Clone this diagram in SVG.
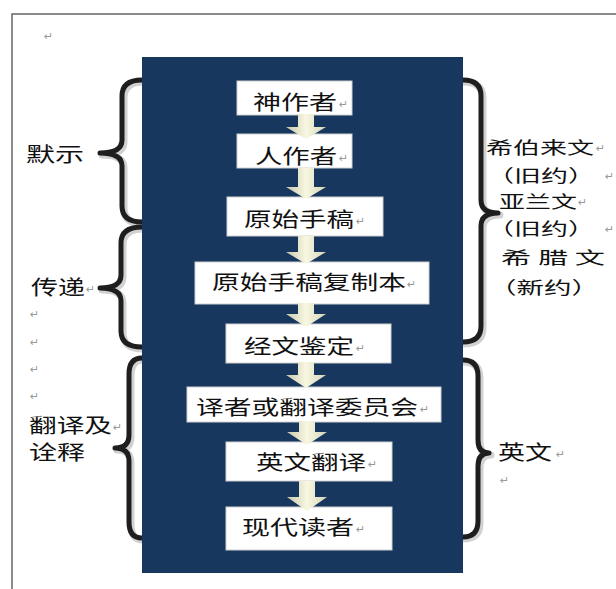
<svg xmlns="http://www.w3.org/2000/svg" width="616" height="589" viewBox="0 0 616 589">
<style>
.t{font-family:"Noto Sans CJK SC","Noto Sans",sans-serif;font-size:20px;fill:#111}
.r{font-family:"Noto Sans CJK SC","Noto Sans",sans-serif;font-size:17.5px;fill:#111}
.rm{font-family:"DejaVu Sans",sans-serif;font-size:11px;fill:#999}
.box{fill:#fff;stroke:#d0d0d0;stroke-width:1}
.arrow{fill:url(#ag);stroke:none}
.brace{fill:none;stroke:#1e1e1e;stroke-width:5;stroke-linecap:round;stroke-linejoin:round}
.braceS{fill:none;stroke:#9a9a9a;stroke-width:7;stroke-linecap:round;stroke-linejoin:round;opacity:0.45}
</style>
<defs>
<linearGradient id="ag" x1="0" y1="0" x2="1" y2="0">
<stop offset="0" stop-color="#c8c8ac"/>
<stop offset="0.5" stop-color="#f8f8e2"/>
<stop offset="1" stop-color="#d4d4b8"/>
</linearGradient>
</defs>
<rect x="0" y="0" width="616" height="589" fill="#fff"/>
<g id="frame">
<path d="M12,589 L12,14 L616,14" fill="none" stroke="#666" stroke-width="1.5"/>
</g>
<g id="braces">
<path class="braceS" d="M143,82 Q124,82 124,98 L124,142 Q124,155 102,155 Q124,155 124,168 L124,208 Q124,224 143,224"/>
<path class="brace" d="M142,80 Q122,80 122,96 L122,140 Q122,153 100,153 Q122,153 122,166 L122,206 Q122,222 142,222"/>
<path class="braceS" d="M143,229 Q123,229 123,245 L123,277 Q123,290 102,290 Q123,290 123,303 L123,333 Q123,349 143,349"/>
<path class="brace" d="M142,227 Q121,227 121,243 L121,275 Q121,288 100,288 Q121,288 121,301 L121,331 Q121,347 142,347"/>
<path class="braceS" d="M143,360 Q131,360 131,376 L131,437 Q131,450 117,450 Q131,450 131,463 L131,524 Q131,540 143,540"/>
<path class="brace" d="M142,358 Q129,358 129,374 L129,435 Q129,448 115,448 Q129,448 129,461 L129,522 Q129,538 142,538"/>
<path class="braceS" d="M463,82 Q483,82 483,98 L483,202 Q483,215 500,215 Q483,215 483,228 L483,328 Q483,344 463,344"/>
<path class="brace" d="M463,80 Q481,80 481,96 L481,200 Q481,213 498,213 Q481,213 481,226 L481,326 Q481,342 463,342"/>
<path class="braceS" d="M463,362 Q480,362 480,378 L480,442 Q480,455 491,455 Q480,455 480,468 L480,523 Q480,539 463,539"/>
<path class="brace" d="M463,360 Q478,360 478,376 L478,440 Q478,453 489,453 Q478,453 478,466 L478,521 Q478,537 463,537"/>
</g>
<rect id="panel" x="142" y="57" width="321" height="516" fill="#17375e"/>
<g id="n1"><rect class="box" x="237" y="81" width="115" height="34"/><text class="t" x="253" y="110" textLength="84" lengthAdjust="spacingAndGlyphs">神作者</text><text class="rm" x="339" y="108">↵</text></g>
<g id="n2"><rect class="box" x="237" y="134" width="115" height="34"/><text class="t" x="255" y="164" textLength="82" lengthAdjust="spacingAndGlyphs">人作者</text><text class="rm" x="339" y="162">↵</text></g>
<g id="n3"><rect class="box" x="227" y="197" width="156" height="39"/><text class="t" x="244" y="227" textLength="110" lengthAdjust="spacingAndGlyphs">原始手稿</text><text class="rm" x="356" y="225">↵</text></g>
<g id="n4"><rect class="box" x="195" y="262" width="234" height="42"/><text class="t" x="212" y="290" textLength="194" lengthAdjust="spacingAndGlyphs">原始手稿复制本</text><text class="rm" x="407" y="288">↵</text></g>
<g id="n5"><rect class="box" x="226" y="324" width="165" height="39"/><text class="t" x="244" y="354" textLength="110" lengthAdjust="spacingAndGlyphs">经文鉴定</text><text class="rm" x="356" y="352">↵</text></g>
<g id="n6"><rect class="box" x="187" y="387" width="254" height="35"/><text class="t" x="196" y="415" textLength="222" lengthAdjust="spacingAndGlyphs">译者或翻译委员会</text><text class="rm" x="420" y="413">↵</text></g>
<g id="n7"><rect class="box" x="226" y="442" width="166" height="39"/><text class="t" x="256" y="470" textLength="110" lengthAdjust="spacingAndGlyphs">英文翻译</text><text class="rm" x="368" y="468">↵</text></g>
<g id="n8"><rect class="box" x="226" y="507" width="166" height="43"/><text class="t" x="242" y="535" textLength="112" lengthAdjust="spacingAndGlyphs">现代读者</text><text class="rm" x="356" y="533">↵</text></g>
<g id="connectors">
<polygon class="arrow" points="298,114 314,114 314,127 326,127 306,139 286,127 298,127"/>
<polygon class="arrow" points="298,168 314,168 314,187 326,187 306,199 286,187 298,187"/>
<polygon class="arrow" points="298,236 314,236 314,252 326,252 306,264 286,252 298,252"/>
<polygon class="arrow" points="298,303 314,303 314,314 326,314 306,327 286,314 298,314"/>
<polygon class="arrow" points="298,362 314,362 314,375 326,375 306,388 286,375 298,375"/>
<polygon class="arrow" points="299,421 315,421 315,432 327,432 307,445 287,432 299,432"/>
<polygon class="arrow" points="299,481 315,481 315,497 327,497 307,511 287,497 299,497"/>
</g>
<g id="left-labels">
<text class="rm" x="44" y="40">↵</text>
<text class="t" x="26" y="162" textLength="58" lengthAdjust="spacingAndGlyphs">默示</text>
<text class="t" x="31" y="295" textLength="54" lengthAdjust="spacingAndGlyphs">传递</text><text class="rm" x="86" y="293">↵</text>
<text class="rm" x="30" y="318">↵</text>
<text class="rm" x="30" y="346">↵</text>
<text class="rm" x="30" y="373">↵</text>
<text class="rm" x="30" y="400">↵</text>
<text class="t" x="29" y="433" textLength="83" lengthAdjust="spacingAndGlyphs">翻译及</text><text class="rm" x="113" y="431">↵</text>
<text class="t" x="29" y="460" textLength="56" lengthAdjust="spacingAndGlyphs">诠释</text>
</g>
<g id="right-labels">
<text class="r" x="486" y="154" textLength="108" lengthAdjust="spacingAndGlyphs">希伯来文</text><text class="rm" x="596" y="152">↵</text>
<text class="r" x="487" y="182" textLength="108" lengthAdjust="spacingAndGlyphs">（旧约）</text><text class="rm" x="605" y="180">↵</text>
<text class="r" x="499" y="208" textLength="78" lengthAdjust="spacingAndGlyphs">亚兰文</text><text class="rm" x="578" y="206">↵</text>
<text class="r" x="487" y="235" textLength="108" lengthAdjust="spacingAndGlyphs">（旧约）</text><text class="rm" x="605" y="233">↵</text>
<text class="r" x="501" y="264" textLength="104" lengthAdjust="spacingAndGlyphs">希 腊 文</text>
<text class="r" x="489" y="294" textLength="110" lengthAdjust="spacingAndGlyphs">（新约）</text>
<text class="t" x="498" y="460" textLength="54" lengthAdjust="spacingAndGlyphs">英文</text><text class="rm" x="556" y="458">↵</text>
<text class="rm" x="500" y="484">↵</text>
</g>
</svg>
